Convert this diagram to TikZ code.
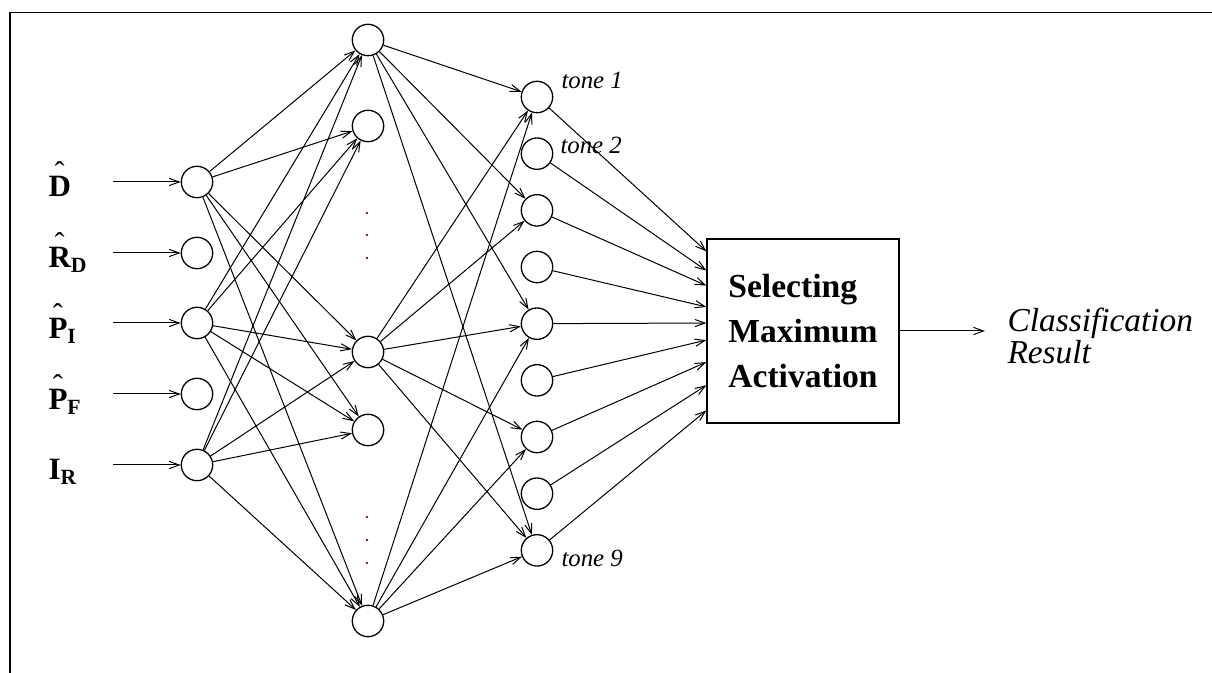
\documentclass[tikz,border=0pt]{standalone}
\usepackage{fontspec}
\setmainfont{Liberation Serif}
\usetikzlibrary{arrows.meta,calc}
\definecolor{dotred}{RGB}{100,30,20}
\tikzset{
	every neuron/.style={
		circle,
		draw,
		line width=0.65pt,
		inner sep=0pt,
		minimum size=15.7pt
	},
	decision box/.style={
		draw,
		line width=0.65pt,
		minimum width=96pt,
		minimum height=92pt,
		align=left,
		font=\bfseries\fontsize{16.8}{22.7}\selectfont
	},
	input label/.style={
		anchor=base west,
		inner sep=0pt,
		font=\bfseries\fontsize{15.5}{17}\selectfont
	},
	tone label/.style={
		anchor=west,
		inner sep=0pt,
		font=\itshape\fontsize{12.4}{14}\selectfont
	},
}
% letter with a thin hat well above it
\newcommand{\hatted}[1]{\ooalign{#1\cr\hidewidth\raisebox{7pt}{\mdseries\fontsize{15}{15}\selectfont\char"02C6}\hidewidth\cr}}

\begin{document}
\begin{tikzpicture}[x=0.5pt, y=-0.5pt, line width=0.5pt, >={Straight Barb[length=5pt,width=3.6pt]}]
\useasboundingbox (0,0) rectangle (1212,673);

% frame
\draw [line width=0.9pt] (1212,12.5) -- (10,12.5) -- (10,673);

\foreach \y [count=\i] in {182,253,323,394,465}
	\node [every neuron] (input-\i) at (197,\y) {};

\foreach \y [count=\i] in {40,126,352,430,621}
	\node [every neuron] (hidden-\i) at (368,\y) {};

\foreach \i in {1,...,9}
	\node [every neuron] (output-\i) at (537,{97+56.67*(\i-1)}) {};

\foreach \l/\y [count=\i] in {{\hatted{D}}/197, {\hatted{R}\textsubscript{D}}/268, {\hatted{P}\textsubscript{I}}/339, {\hatted{P}\textsubscript{F}}/410, {I\textsubscript{R}}/480}
	\node [input label] (label-\i) at (48,\y) {\l};

\foreach \y [count=\i] in {182,253,323,394,465}
	\coordinate (source-\i) at (113,\y);

\foreach \i in {1,...,5}
	\draw [->] (source-\i) -- (input-\i);

\foreach \i in {1,3,5}
	\foreach \j in {1,...,5}
		\draw [->] (input-\i) -- (hidden-\j);

\foreach \i/\j in {1/1,1/3,1/5,1/9,3/1,3/3,3/5,3/7,3/9,5/1,5/5,5/7,5/9}
	\draw [->] (hidden-\i) -- (output-\j);

% vertical dots
\foreach \y in {213,235,258,517,540,563}
	\fill [dotred] (367,\y) circle (1.3);

\node [tone label] (tone-1) at (561,80) {tone 1};
\node [tone label] (tone-2) at (560,145) {tone 2};
\node [tone label] (tone-9) at (561,558) {tone 9};

\node [decision box] (box) at (803,331) {Selecting\\Maximum\\Activation};

\foreach \f [count=\i] in {0.07,0.174,0.255,0.37,0.457,0.549,0.668,0.793,0.929}
	\draw [->] (output-\i) -- ($(box.north west)!\f!(box.south west)$);

\node [anchor=west, inner sep=0pt, align=left, font=\itshape\fontsize{16.7}{16}\selectfont] (result) at (1007,336) {Classification\\Result};
\coordinate (result-in) at (985,331);
\draw [->] (box) -- (result-in);

\end{tikzpicture}
\end{document}
